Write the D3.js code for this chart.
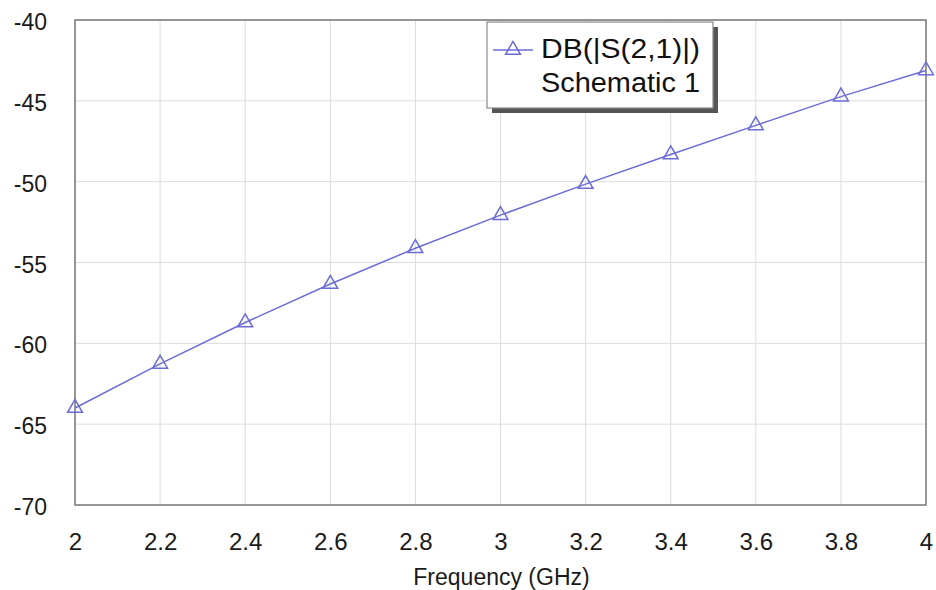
<!DOCTYPE html>
<html>
<head>
<meta charset="utf-8">
<script src="https://cdn.jsdelivr.net/npm/d3@7"></script>
<style>
  html, body { margin: 0; padding: 0; background: #fff; }
  svg { display: block; font-family: "Liberation Sans", Arial, sans-serif; }
</style>
</head>
<body>
<svg id="chart" width="936" height="590"></svg>
<script>
const frequency = [2.0, 2.2, 2.4, 2.6, 2.8, 3.0, 3.2, 3.4, 3.6, 3.8, 4.0];
const s21dB = [-64.0, -61.27, -58.71, -56.33, -54.12, -52.07, -50.15, -48.32, -46.52, -44.74, -43.12];
const xTicks = [2, 2.2, 2.4, 2.6, 2.8, 3, 3.2, 3.4, 3.6, 3.8, 4];
const yTicks = [-70, -65, -60, -55, -50, -45, -40];
const legendLines = ["DB(|S(2,1)|)", "Schematic 1"];
const xTitle = "Frequency (GHz)";

const svg = d3.select("#chart");
const m = { left: 75, right: 926, top: 20, bottom: 505 };
const color = "#6c6cd8";

const x = d3.scaleLinear().domain([2, 4]).range([m.left, m.right]);
const y = d3.scaleLinear().domain([-70, -40]).range([m.bottom, m.top]);

// grid
const grid = svg.append("g");
grid.selectAll("line.v").data(xTicks).join("line")
  .attr("x1", d => x(d)).attr("x2", d => x(d))
  .attr("y1", m.top).attr("y2", m.bottom)
  .attr("stroke", "#dcdcdc").attr("stroke-width", 1);
grid.selectAll("line.h").data(yTicks).join("line")
  .attr("y1", d => y(d)).attr("y2", d => y(d))
  .attr("x1", m.left).attr("x2", m.right)
  .attr("stroke", "#dcdcdc").attr("stroke-width", 1);

// frame
svg.append("rect")
  .attr("x", m.left).attr("y", m.top)
  .attr("width", m.right - m.left).attr("height", m.bottom - m.top)
  .attr("fill", "none").attr("stroke", "#7a7a7a").attr("stroke-width", 1.5);

// axes (labels only)
const xAxis = d3.axisBottom(x).tickValues(xTicks).tickSize(0).tickPadding(0)
  .tickFormat(d => String(d));
const gx = svg.append("g").attr("transform", `translate(0,${m.bottom})`).call(xAxis);
gx.select(".domain").remove();
gx.selectAll("text").attr("font-size", 24).attr("fill", "#1a1a1a")
  .attr("font-family", "Liberation Sans, Arial, sans-serif")
  .attr("dy", null).attr("y", 45);

const yAxis = d3.axisLeft(y).tickValues(yTicks).tickSize(0).tickPadding(0)
  .tickFormat(d => String(d));
const gy = svg.append("g").attr("transform", `translate(47,2)`).call(yAxis);
gy.select(".domain").remove();
gy.selectAll("text").attr("font-size", 23).attr("fill", "#1a1a1a")
  .attr("font-family", "Liberation Sans, Arial, sans-serif")
  .attr("dy", "0.33em").attr("x", 0);

svg.append("text")
  .attr("x", (m.left + m.right) / 2 + 1).attr("y", 585)
  .attr("text-anchor", "middle").attr("font-size", 23).attr("fill", "#1a1a1a")
  .text(xTitle);

// data line
const line = d3.line().x((d, i) => x(frequency[i])).y(d => y(d));
svg.append("path").datum(s21dB)
  .attr("d", line).attr("fill", "none")
  .attr("stroke", color).attr("stroke-width", 1.5);

const tri = d3.symbol().type(d3.symbolTriangle).size(95);
svg.selectAll("path.mk").data(s21dB).join("path")
  .attr("class", "mk")
  .attr("transform", (d, i) => `translate(${x(frequency[i])},${y(d)})`)
  .attr("d", tri)
  .attr("fill", "none").attr("stroke", color).attr("stroke-width", 1.5);

// legend
const lg = svg.append("g");
const L = { x: 487, y: 22, w: 226, h: 86 };
lg.append("rect").attr("x", L.x + 5).attr("y", L.y + 5).attr("width", L.w).attr("height", L.h)
  .attr("fill", "#555");
lg.append("rect").attr("x", L.x).attr("y", L.y).attr("width", L.w).attr("height", L.h)
  .attr("fill", "#fff").attr("stroke", "#8a8a8a").attr("stroke-width", 1.2);
lg.append("line").attr("x1", L.x + 6).attr("x2", L.x + 46)
  .attr("y1", L.y + 28).attr("y2", L.y + 28)
  .attr("stroke", color).attr("stroke-width", 1.5);
lg.append("path").attr("transform", `translate(${L.x + 26},${L.y + 28})`)
  .attr("d", tri).attr("fill", "none").attr("stroke", color).attr("stroke-width", 1.5);
lg.selectAll("text").data(legendLines).join("text")
  .attr("x", L.x + 54).attr("y", (d, i) => L.y + 36 + i * 34)
  .attr("font-size", 27).attr("fill", "#111")
  .attr("textLength", 159).attr("lengthAdjust", "spacingAndGlyphs")
  .text(d => d);
</script>
</body>
</html>
